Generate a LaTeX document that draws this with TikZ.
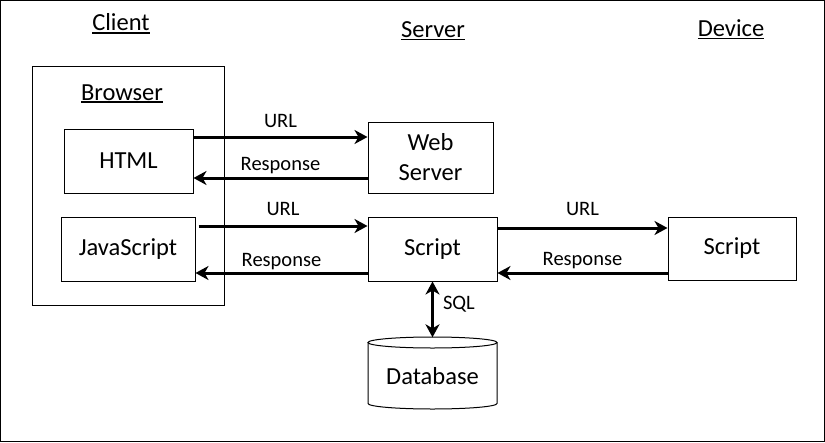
\documentclass[tikz,border=0pt]{standalone}
\usepackage{fontspec}
\setmainfont{Carlito}
\usetikzlibrary{arrows.meta}
\newcommand\ulbox[1]{\setbox0\hbox{#1}\rlap{\usebox0}\rule[-2.8pt]{\wd0}{1.8pt}}
\begin{document}
\begin{tikzpicture}[x=1pt,y=-1pt,
  box/.style={draw, line width=1pt, inner sep=0pt, font=\fontsize{24.5}{30}\selectfont, align=center},
  title/.style={anchor=base, inner sep=0pt, font=\fontsize{24.5}{28}\selectfont},
  lbl/.style={font=\fontsize{20.5}{23}\selectfont, anchor=base, inner sep=0pt},
  arr/.style={line width=3pt, -{Stealth[length=13pt,width=14pt,inset=4pt]}},
  darr/.style={line width=3pt, {Stealth[length=13pt,width=14pt,inset=4pt]}-{Stealth[length=13pt,width=14pt,inset=4pt]}}]
\useasboundingbox (0,0) rectangle (825,442);
\draw[line width=1pt] (0.5,0.5) rectangle (824.5,441.5);

% column titles
\node[title] (client) at (121,30.7) {\ulbox{Client}};
\node[title] (server) at (433,37.5) {\ulbox{Server}};
\node[title] (device) at (731,36.5) {\ulbox{Device}};

% boxes
\node[box, minimum width=192pt, minimum height=239pt] (browser) at (128,185.5) {};
\node[title] (browserlbl) at (122,100) {\ulbox{Browser}};
\node[box, minimum width=129pt, minimum height=64pt] (html) at (128.5,161) {HTML};
\node[box, minimum width=125pt, minimum height=71pt] (web) at (430.5,157.5) {Web\\Server};
\node[box, minimum width=134pt, minimum height=64pt] (js) at (128,249) {JavaScript};
\node[box, minimum width=129pt, minimum height=64pt] (script) at (432.5,249) {Script};
\node[box, minimum width=128pt, minimum height=63pt] (dev) at (732,248.5) {Script};

% database cylinder
\node[minimum width=129pt, minimum height=78pt, inner sep=0pt, font=\fontsize{24.5}{30}\selectfont] (db) at (432.5,376.5) {Database};
\draw[line width=1pt] (432.5,342.5) ellipse [x radius=64.5pt, y radius=5.5pt];
\draw[line width=1pt] (368,342.5) -- (368,403.5) arc[start angle=180, end angle=360, x radius=64.5pt, y radius=5.5pt] -- (497,342.5);

% connectors
\draw[arr] ([yshift=24pt]html.east) -- ([yshift=24pt]html.east -| web.west)
  node[lbl, midway, yshift=10pt] {URL};
\draw[arr] ([yshift=-17pt]html.east -| web.west) -- ([yshift=-17pt]html.east)
  node[lbl, midway, yshift=8pt] {Response};
\draw[arr] ([xshift=3pt,yshift=23pt]js.east) -- ([yshift=23pt]js.east -| script.west)
  node[lbl, midway, yshift=11pt] {URL};
\draw[arr] ([yshift=-24pt]js.east -| script.west) -- ([yshift=-24pt]js.east)
  node[lbl, midway, yshift=7pt] {Response};
\draw[arr] ([yshift=21pt]script.east) -- ([yshift=21pt]script.east -| dev.west)
  node[lbl, midway, yshift=13pt] {URL};
\draw[arr] ([yshift=-24pt]script.east -| dev.west) -- ([yshift=-24pt]script.east)
  node[lbl, midway, yshift=8pt] {Response};
\draw[darr] (script.south) -- (db.north)
  node[lbl, midway, anchor=base west, xshift=9pt] {SQL};
\end{tikzpicture}
\end{document}
